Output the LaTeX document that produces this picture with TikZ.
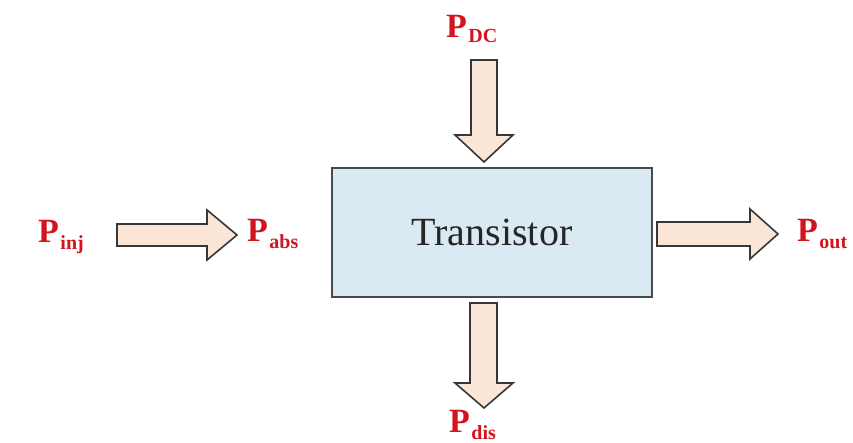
\documentclass[tikz,border=0pt]{standalone}
\usepackage{fontspec}
\setmainfont{Liberation Serif}
\definecolor{lblred}{RGB}{210,20,30}
\definecolor{boxfill}{RGB}{218,234,242}
\definecolor{boxline}{RGB}{70,75,80}
\definecolor{arrfill}{RGB}{251,229,214}
\definecolor{arrline}{RGB}{55,55,55}
\newcommand{\plbl}[2][-7pt]{\textbf{P\kern1.5pt\raisebox{#1}{\fontsize{20}{20}\selectfont #2}}}
\tikzset{
  plabel/.style={text=lblred, font=\fontsize{34}{34}\selectfont, inner sep=0pt},
  blockarrow/.style={draw=arrline, fill=arrfill, line width=1.6pt, line join=miter},
  mainbox/.style={draw=boxline, fill=boxfill, line width=2.4pt, minimum width=320pt, minimum height=129pt, inner sep=0pt, font=\fontsize{40}{40}\selectfont, text=black!85}
}
\begin{document}
\begin{tikzpicture}[x=1pt,y=-1pt]
\useasboundingbox (0,0) rectangle (853,443);
\node[mainbox] (tr) at (492,232.5) {Transistor};
% left arrow
\draw[blockarrow] (117,224) -- (207,224) -- (207,210) -- (237,235) -- (207,260) -- (207,246) -- (117,246) -- cycle;
% right arrow
\draw[blockarrow] (657,222) -- (750,222) -- (750,209) -- (778,234) -- (750,259) -- (750,246) -- (657,246) -- cycle;
% top arrow
\draw[blockarrow] (471,60) -- (497,60) -- (497,135) -- (513,135) -- (484,162) -- (455,135) -- (471,135) -- cycle;
% bottom arrow
\draw[blockarrow] (470,303) -- (497,303) -- (497,383) -- (513,383) -- (484,408) -- (455,383) -- (470,383) -- cycle;
\node[plabel, anchor=base west] (pinj) at (38,243) {\plbl{inj}};
\node[plabel, anchor=base west] (pabs) at (247,242) {\plbl{abs}};
\node[plabel, anchor=base west] (pout) at (797,242) {\plbl{out}};
\node[plabel, anchor=base west] (pdc) at (446,38) {\plbl[-5pt]{DC}};
\node[plabel, anchor=base west] (pdis) at (449,432) {\plbl{dis}};
\end{tikzpicture}
\end{document}
